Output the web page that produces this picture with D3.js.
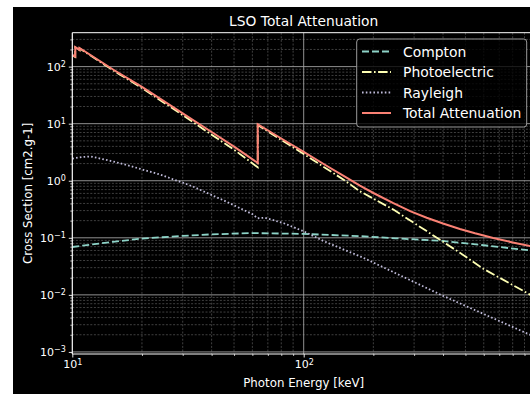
<!DOCTYPE html>
<html>
<head>
<meta charset="utf-8">
<script src="https://cdn.jsdelivr.net/npm/d3@7"></script>
<style>
  body { margin: 0; background: #fff; }
  text { font-family: "DejaVu Sans", sans-serif; fill: #fff; }
</style>
</head>
<body>
<div id="my-chart"></div>
<script>
// values (energy in keV, cross section in cm2/g)
const totalE = [10, 10.3, 10.3, 10.75, 10.75, 15, 20, 30, 40, 50, 63.3, 63.3, 80, 100, 125, 150, 175, 200, 244, 290, 340, 400, 473, 550, 659, 800, 951, 1000];
const totalV = [160, 150, 220, 197, 212, 89, 44, 15.2, 7.15, 3.95, 2.05, 9.8, 5.5, 3.2, 1.85, 1.19, 0.82, 0.61, 0.405, 0.29, 0.225, 0.178, 0.143, 0.12, 0.099, 0.083, 0.0715, 0.069];

const photoE = [10, 10.3, 10.3, 10.75, 10.75, 15, 20, 30, 40, 50, 63.3, 63.3, 80, 100, 150, 175, 244, 340, 473, 597, 951, 1000];
const photoV = [157, 147, 217, 194, 209, 86, 42, 14.1, 6.4, 3.5, 1.72, 9.45, 5.2, 2.95, 1.02, 0.653, 0.312, 0.131, 0.0547, 0.0287, 0.0101, 0.0089];

const rayE = [10, 11, 12, 14.5, 17, 24, 33, 46, 60, 63.3, 68, 82, 100, 122, 181, 394, 951, 1000];
const rayV = [2.45, 2.6, 2.67, 2.25, 1.91, 1.28, 0.80, 0.436, 0.26, 0.22, 0.225, 0.18, 0.13, 0.0875, 0.0447, 0.0099, 0.0020, 0.0018];

const compE = [10, 12, 15, 20, 30, 40, 60, 100, 175, 250, 400, 600, 951, 1000];
const compV = [0.069, 0.076, 0.085, 0.097, 0.108, 0.115, 0.121, 0.117, 0.107, 0.098, 0.088, 0.074, 0.060, 0.058];

const seriesNames = ["Compton", "Photoelectric", "Rayleigh", "Total Attenuation"];
const xDecades = [10, 100];
const yDecades = [1e-3, 1e-2, 1e-1, 1, 10, 100];

const width = 530, height = 394;
const mLeft = 72.3, mRight = 535.1, mTop = 32.7, mBottom = 354;

const svg = d3.select("#my-chart").append("svg")
    .attr("width", width)
    .attr("height", height);

svg.append("rect").attr("width", width).attr("height", height).attr("fill", "#fff");
svg.append("rect").attr("x", 13).attr("y", 7).attr("width", width - 13).attr("height", height - 7).attr("fill", "#000");

const x = d3.scaleLog().domain([10, 1000]).range([mLeft, mRight]);
const y = d3.scaleLog().domain([0.00092, 393]).range([mBottom, mTop]);

// minor tick values
const minors = (lo, hi) => {
  const out = [];
  for (let k = -4; k <= 3; k++)
    for (let m = 2; m <= 9; m++) {
      const v = m * Math.pow(10, k);
      if (v > lo && v < hi) out.push(v);
    }
  return out;
};
const xMinor = minors(10, 1000);
const yMinor = minors(0.00092, 393);

// grid
const grid = svg.append("g");
grid.selectAll(".xmin").data(xMinor).join("line")
    .attr("x1", d => x(d)).attr("x2", d => x(d)).attr("y1", mTop).attr("y2", mBottom)
    .attr("stroke", "#5a5a5a").attr("stroke-width", 0.7).attr("stroke-dasharray", "2,1.6");
grid.selectAll(".ymin").data(yMinor).join("line")
    .attr("y1", d => y(d)).attr("y2", d => y(d)).attr("x1", mLeft).attr("x2", mRight)
    .attr("stroke", "#5a5a5a").attr("stroke-width", 0.7).attr("stroke-dasharray", "2,1.6");
grid.selectAll(".xmaj").data(xDecades).join("line")
    .attr("x1", d => x(d)).attr("x2", d => x(d)).attr("y1", mTop).attr("y2", mBottom)
    .attr("stroke", "#a0a0a0").attr("stroke-width", 0.9);
grid.selectAll(".ymaj").data(yDecades).join("line")
    .attr("y1", d => y(d)).attr("y2", d => y(d)).attr("x1", mLeft).attr("x2", mRight)
    .attr("stroke", "#a0a0a0").attr("stroke-width", 0.9);

// curves
svg.append("defs").append("clipPath").attr("id", "clip")
  .append("rect").attr("x", mLeft).attr("y", mTop).attr("width", mRight - mLeft).attr("height", mBottom - mTop);

const line = d3.line().x(d => x(d[0])).y(d => y(d[1]));
const zip = (a, b) => a.map((v, i) => [v, b[i]]);

const styles = [
  { data: zip(compE, compV), color: "#8dd3c7", dash: "7,3", w: 1.8 },
  { data: zip(photoE, photoV), color: "#feffb3", dash: "9.5,2.5,1.6,2.5", w: 1.8 },
  { data: zip(rayE, rayV), color: "#bfbbd9", dash: "1.6,2.2", w: 1.8 },
  { data: zip(totalE, totalV), color: "#fa8174", dash: null, w: 2 }
];

const plot = svg.append("g").attr("clip-path", "url(#clip)");
styles.forEach(s => {
  plot.append("path")
      .attr("d", line(s.data))
      .attr("fill", "none")
      .attr("stroke", s.color)
      .attr("stroke-width", s.w)
      .attr("stroke-dasharray", s.dash);
});

// axes
const sup = (g, exp) => g.selectAll(".tick text").each(function(d) {
  const t = d3.select(this);
  t.text("10");
  t.append("tspan").attr("dy", "-0.45em").attr("font-size", "8px").text(exp(d));
});
const expOf = d => String(Math.round(Math.log10(d))).replace("-", "\u2212");

svg.append("g")
    .attr("transform", `translate(0,${mBottom})`)
    .call(d3.axisBottom(x).tickValues(xMinor).tickSize(2).tickFormat(""))
    .call(g => g.select(".domain").remove())
    .call(g => g.selectAll("line").attr("stroke", "#fff").attr("stroke-width", 0.7));
svg.append("g")
    .attr("transform", `translate(0,${mBottom})`)
    .call(d3.axisBottom(x).tickValues(xDecades).tickSize(3.5).tickPadding(3))
    .call(g => g.select(".domain").remove())
    .call(g => g.selectAll("line").attr("stroke", "#fff").attr("stroke-width", 0.9))
    .call(g => g.selectAll("text").attr("fill", "#fff").attr("font-size", "11px").attr("font-family", "DejaVu Sans"))
    .call(g => sup(g, expOf));

svg.append("g")
    .attr("transform", `translate(${mLeft},0)`)
    .call(d3.axisLeft(y).tickValues(yMinor).tickSize(2).tickFormat(""))
    .call(g => g.select(".domain").remove())
    .call(g => g.selectAll("line").attr("stroke", "#fff").attr("stroke-width", 0.7));
svg.append("g")
    .attr("transform", `translate(${mLeft},0)`)
    .call(d3.axisLeft(y).tickValues(yDecades).tickSize(3.5).tickPadding(3))
    .call(g => g.select(".domain").remove())
    .call(g => g.selectAll("line").attr("stroke", "#fff").attr("stroke-width", 0.9))
    .call(g => g.selectAll("text").attr("fill", "#fff").attr("font-size", "11px").attr("font-family", "DejaVu Sans"))
    .call(g => sup(g, expOf));

// spines
svg.append("path")
    .attr("d", `M${mRight},${mTop}H${mLeft}V${mBottom}H${mRight}`)
    .attr("fill", "none").attr("stroke", "#fff").attr("stroke-width", 1);

// labels
svg.append("text")
    .attr("x", (mLeft + mRight) / 2).attr("y", 26)
    .attr("text-anchor", "middle").attr("font-size", "13.8px")
    .text("LSO Total Attenuation");
svg.append("text")
    .attr("x", (mLeft + mRight) / 2).attr("y", 387)
    .attr("text-anchor", "middle").attr("font-size", "11.8px")
    .text("Photon Energy [keV]");
svg.append("text")
    .attr("transform", `translate(32,${(mTop + mBottom) / 2}) rotate(-90)`)
    .attr("text-anchor", "middle").attr("font-size", "11.8px")
    .text("Cross Section [cm2.g-1]");

// legend
const legend = svg.append("g");
legend.append("rect")
    .attr("x", 356.7).attr("y", 39).attr("width", 170).attr("height", 88).attr("rx", 3)
    .attr("fill", "#000").attr("fill-opacity", 0.8)
    .attr("stroke", "#9a9a9a").attr("stroke-width", 1);
const rowY = d3.scalePoint().domain(seriesNames).range([51.5, 113]);
seriesNames.forEach((name, i) => {
  const s = styles[i];
  legend.append("line")
      .attr("x1", 362).attr("x2", 391).attr("y1", rowY(name)).attr("y2", rowY(name))
      .attr("stroke", s.color).attr("stroke-width", s.w).attr("stroke-dasharray", s.dash);
  legend.append("text")
      .attr("x", 403).attr("y", rowY(name)).attr("dy", "0.36em")
      .attr("font-size", "13.9px")
      .text(name);
});
</script>
</body>
</html>
